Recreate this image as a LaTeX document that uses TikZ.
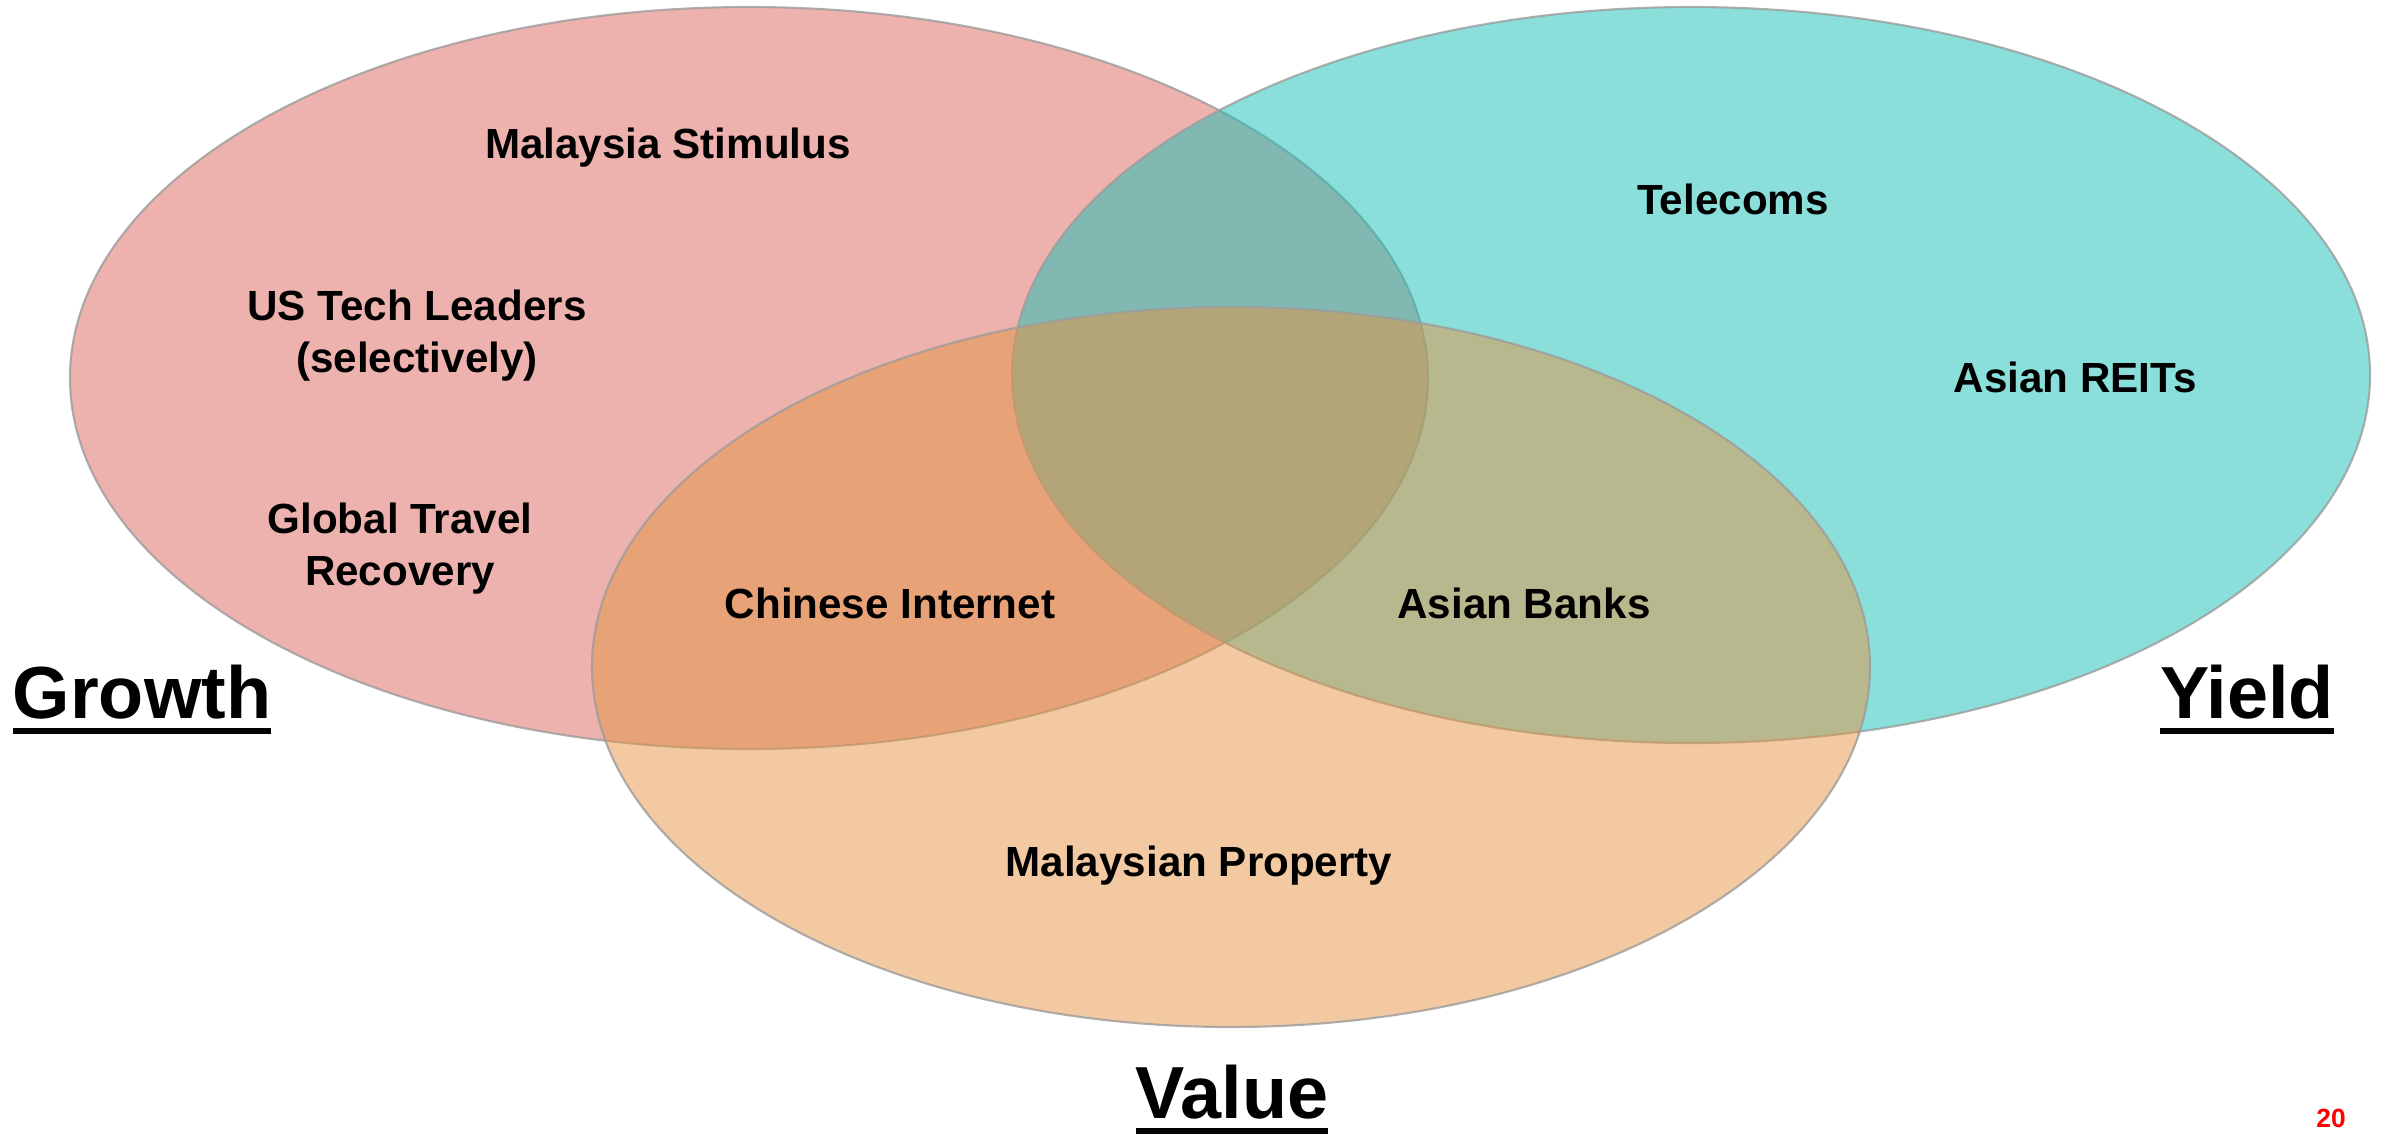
\documentclass[tikz,border=0pt]{standalone}
\usepackage{fontspec}
\setmainfont{Liberation Sans}
\usetikzlibrary{positioning}
\definecolor{growthred}{HTML}{DB655D}
\definecolor{yieldteal}{HTML}{15BFB5}
\definecolor{valueorange}{HTML}{E59341}
\definecolor{setedge}{HTML}{9C9C9C}
\definecolor{pagered}{HTML}{FF0000}
\newsavebox{\headbox}
\newcommand{\ulHead}[1]{\sbox{\headbox}{#1}\vtop{\copy\headbox\kern2.5pt\hrule height 1.8pt width \wd\headbox}}
\newcommand{\mySet}[5]{
    \draw[setline,fill=#5] (#1,#2) ellipse [x radius=#3, y radius=#4];
}
\newcommand{\myItem}[4]{
    \node[item] (#4) at (#1,#2) {#3};
}
\tikzset{
  setline/.style={draw=setedge,draw opacity=0.8,line width=0.6pt,fill opacity=0.5},
  item/.style={align=center,font=\fontsize{12}{14.8}\selectfont\bfseries,inner sep=0pt},
  head/.style={anchor=base,font=\fontsize{21}{25}\selectfont\bfseries,inner sep=0pt}
}

\begin{document}
\begin{tikzpicture}
  \useasboundingbox (0,0) rectangle (23.82,11.33);
      \mySet{7.49}{7.55}{6.79}{3.71}{growthred}
      \mySet{16.91}{7.58}{6.79}{3.68}{yieldteal}
      \mySet{12.31}{4.66}{6.39}{3.60}{valueorange}

      \myItem{6.68}{9.85}{Malaysia Stimulus}{stimulus}
      \myItem{4.17}{7.97}{US Tech Leaders\\(selectively)}{ustech}
      \myItem{4.00}{5.84}{Global Travel\\Recovery}{travel}
      \myItem{8.90}{5.30}{Chinese Internet}{internet}
      \myItem{15.24}{5.30}{Asian Banks}{banks}
      \myItem{17.33}{9.34}{Telecoms}{telecoms}
      \myItem{20.75}{7.56}{Asian REITs}{reits}
      \myItem{11.99}{2.67}{Malaysian Property}{property}

      \node[head] (growth) at (1.42,4.15) {\ulHead{Growth}};
      \node[head] (yield) at (22.47,4.15) {\ulHead{Yield}};
      \node[head] (value) at (12.32,0.15) {\ulHead{Value}};
      \node[anchor=base,inner sep=0pt,text=pagered,font=\fontsize{7.5}{9}\selectfont\bfseries] (page) at (23.31,0.06) {20};
  \end{tikzpicture}
\end{document}
